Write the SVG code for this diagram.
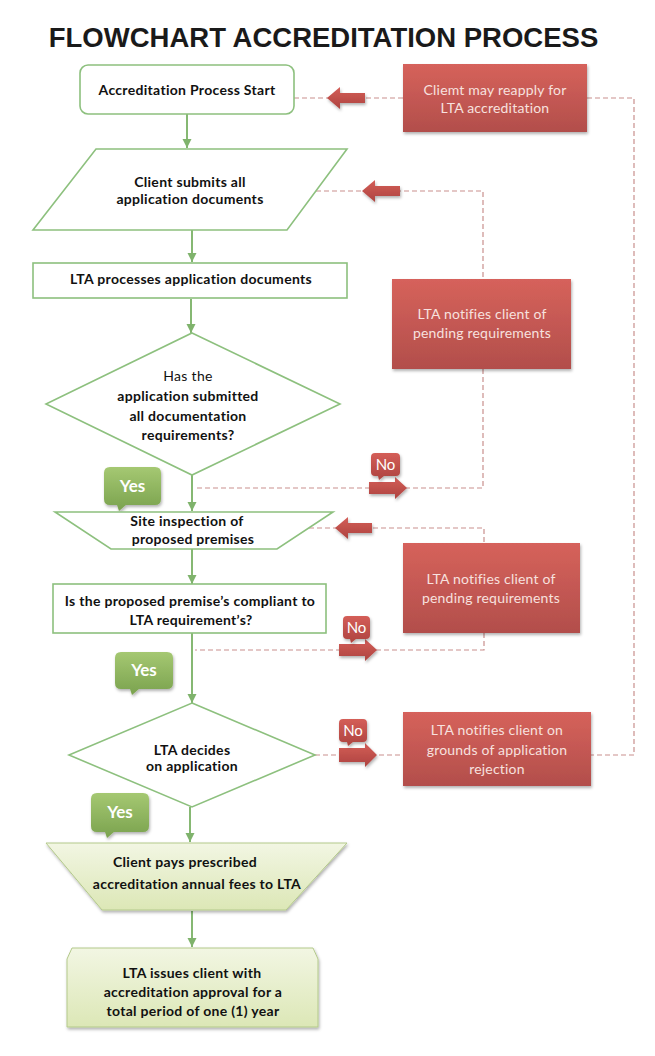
<svg xmlns="http://www.w3.org/2000/svg" width="655" height="1056" viewBox="0 0 655 1056">
<defs>
<linearGradient id="redG" x1="0" y1="0" x2="0" y2="1">
<stop offset="0" stop-color="#d6625b"/><stop offset="1" stop-color="#b24e4b"/>
</linearGradient>
<linearGradient id="arrG" x1="0" y1="0" x2="0" y2="1">
<stop offset="0" stop-color="#d45e58"/><stop offset="1" stop-color="#ad433f"/>
</linearGradient>
<linearGradient id="yesG" x1="0" y1="0" x2="0" y2="1">
<stop offset="0" stop-color="#a5c872"/><stop offset="1" stop-color="#7aa24e"/>
</linearGradient>
<linearGradient id="paleG" x1="0" y1="0" x2="0" y2="1">
<stop offset="0" stop-color="#f2f6e3"/><stop offset="1" stop-color="#dce7b6"/>
</linearGradient>
<filter id="sh" x="-10%" y="-10%" width="125%" height="135%">
<feDropShadow dx="1" dy="2" stdDeviation="1.6" flood-color="#000" flood-opacity="0.3"/>
</filter>
<marker id="ga" viewBox="0 0 10 10" refX="10" refY="5" markerWidth="9" markerHeight="10" markerUnits="userSpaceOnUse" orient="auto">
<path d="M0,0 L10,5 L0,10 Z" fill="#7fb36c"/>
</marker>
<style>
.title{font-family:"Liberation Sans",Arial,sans-serif;font-weight:bold;font-size:27.5px;fill:#1a1a1a;text-anchor:middle}
.wn{fill:#fff;stroke:#8dc07e;stroke-width:1.6}
.pn{fill:url(#paleG);stroke:#b3c98a;stroke-width:1}
.rb{fill:url(#redG);filter:url(#sh)}
.t{font-family:Lato,"Open Sans",sans-serif;font-weight:bold;font-size:14px;letter-spacing:0.3px;fill:#111;text-anchor:middle}
.tn{font-weight:normal}
.rt{font-family:Lato,"Open Sans",sans-serif;font-size:14px;letter-spacing:0.2px;fill:#f7e1df;text-anchor:middle}
.g{stroke:#86b873;stroke-width:2;fill:none}
.d{stroke:#c98f8d;stroke-width:1.2;stroke-dasharray:5,3;fill:none}
.ra{fill:url(#arrG);filter:url(#sh)}
.yes{fill:url(#yesG);filter:url(#sh)}
.yt{font-family:Lato,"Open Sans",sans-serif;font-weight:bold;font-size:17px;fill:#fff;text-anchor:middle}
.no{fill:url(#arrG);filter:url(#sh)}
.nt{font-family:Lato,"Open Sans",sans-serif;font-size:15px;fill:#fff;text-anchor:middle}
</style>
</defs>
<rect width="655" height="1056" fill="#fff"/>
<text class="title" x="323.5" y="47">FLOWCHART ACCREDITATION PROCESS</text>

<g id="connectors">
<line class="g" x1="187" y1="114" x2="187" y2="148" marker-end="url(#ga)"/>
<line class="g" x1="192" y1="230" x2="192" y2="262" marker-end="url(#ga)"/>
<line class="g" x1="191" y1="299" x2="191" y2="333" marker-end="url(#ga)"/>
<line class="g" x1="192" y1="475" x2="192" y2="511" marker-end="url(#ga)"/>
<line class="g" x1="192" y1="549" x2="192" y2="584" marker-end="url(#ga)"/>
<line class="g" x1="192" y1="633" x2="192" y2="703" marker-end="url(#ga)"/>
<line class="g" x1="190" y1="807" x2="190" y2="842" marker-end="url(#ga)"/>
<line class="g" x1="192" y1="911" x2="192" y2="947" marker-end="url(#ga)"/>
<polyline class="d" points="294,98 403,98"/>
<polyline class="d" points="587,98 634,98 634,755 591,755"/>
<polyline class="d" points="316,191 483,191 483,279"/>
<polyline class="d" points="483,369 483,488 195,488"/>
<polyline class="d" points="309,528 484,528 484,543"/>
<polyline class="d" points="484,633 484,650 195,650"/>
<polyline class="d" points="315,755 403,755"/>
<path class="ra" d="M327,98 L340,87 L340,93 L365,93 L365,103 L340,103 L340,109 Z"/>
<path class="ra" d="M362,191 L375,180 L375,186 L400,186 L400,196 L375,196 L375,202 Z"/>
<path class="ra" d="M335,528 L348,517 L348,523 L372,523 L372,533 L348,533 L348,539 Z"/>
<path class="ra" d="M407,488 L395,477 L395,482 L369,482 L369,494 L395,494 L395,499 Z"/>
<path class="ra" d="M377,650 L365,639 L365,644 L339,644 L339,656 L365,656 L365,661 Z"/>
<path class="ra" d="M377,755 L365,743 L365,748 L339,748 L339,762 L365,762 L365,767 Z"/>
</g>

<g id="start">
<rect class="wn" x="80" y="65" width="214" height="49" rx="8"/>
<text class="t" x="187" y="95">Accreditation Process Start</text>
</g>

<g id="reapply">
<rect class="rb" x="403" y="64" width="184" height="68"/>
<text class="rt" x="495" y="95">Cliemt may reapply for</text>
<text class="rt" x="495" y="113">LTA accreditation</text>
</g>

<g id="submit">
<polygon class="wn" points="96,149 347,149 287,230 33,230"/>
<text class="t" x="190" y="187">Client submits all</text>
<text class="t" x="190" y="204">application documents</text>
</g>

<g id="process">
<rect class="wn" x="33" y="263" width="314" height="35"/>
<text class="t" x="191" y="284">LTA processes application documents</text>
</g>

<g id="pending1">
<rect class="rb" x="392" y="279" width="179" height="90"/>
<text class="rt" x="482" y="319">LTA notifies client of</text>
<text class="rt" x="482" y="338">pending requirements</text>
</g>

<g id="decision1">
<polygon class="wn" points="192,333 340,404 192,475 46,404"/>
<text class="t tn" x="188" y="381">Has the</text>
<text class="t" x="188" y="401">application submitted</text>
<text class="t" x="188" y="421">all documentation</text>
<text class="t" x="188" y="440">requirements?</text>
</g>

<g id="no1">
<path class="no" d="M375,453 H396 Q400,453 400,457 V472 Q400,476 396,476 H384 L379,480 L378,476 H375 Q371,476 371,472 V457 Q371,453 375,453 Z"/>
<text class="nt" x="385.5" y="470">No</text>
</g>

<g id="yes1">
<path class="yes" d="M110,467 H155 Q161,467 161,473 V499 Q161,505 155,505 H126 L119,511 L117,505 H110 Q104,505 104,499 V473 Q104,467 110,467 Z"/>
<text class="yt" x="132.5" y="492">Yes</text>
</g>

<g id="site">
<polygon class="wn" points="55,512 333,512 277,549 111,549"/>
<text class="t" x="187" y="526">Site inspection of</text>
<text class="t" x="193" y="544">proposed premises</text>
</g>

<g id="pending2">
<rect class="rb" x="403" y="543" width="177" height="90"/>
<text class="rt" x="491" y="584">LTA notifies client of</text>
<text class="rt" x="491" y="603">pending requirements</text>
</g>

<g id="compliance">
<rect class="wn" x="53" y="584" width="273" height="49"/>
<text class="t" x="190" y="606">Is the proposed premise’s compliant to</text>
<text class="t" x="191" y="625">LTA requirement’s?</text>
</g>

<g id="no2">
<path class="no" d="M347,616 H366 Q370,616 370,620 V635 Q370,639 366,639 H356 L351,643 L350,639 H347 Q343,639 343,635 V620 Q343,616 347,616 Z"/>
<text class="nt" x="356.5" y="633">No</text>
</g>

<g id="yes2">
<path class="yes" d="M121,652 H167 Q173,652 173,658 V683 Q173,689 167,689 H139 L132,695 L130,689 H121 Q115,689 115,683 V658 Q115,652 121,652 Z"/>
<text class="yt" x="144" y="676">Yes</text>
</g>

<g id="decision2">
<polygon class="wn" points="192,703 315,755 192,807 69,755"/>
<text class="t" x="192" y="755">LTA decides</text>
<text class="t" x="192" y="771">on application</text>
</g>

<g id="no3">
<path class="no" d="M343,719 H363 Q367,719 367,723 V738 Q367,742 363,742 H353 L348,746 L347,742 H343 Q339,742 339,738 V723 Q339,719 343,719 Z"/>
<text class="nt" x="353" y="736">No</text>
</g>

<g id="rejection">
<rect class="rb" x="403" y="712" width="188" height="74"/>
<text class="rt" x="497" y="735">LTA notifies client on</text>
<text class="rt" x="497" y="755">grounds of application</text>
<text class="rt" x="497" y="774">rejection</text>
</g>

<g id="yes3">
<path class="yes" d="M97,793 H143 Q149,793 149,799 V826 Q149,832 143,832 H114 L107,838 L105,832 H97 Q91,832 91,826 V799 Q91,793 97,793 Z"/>
<text class="yt" x="120" y="818">Yes</text>
</g>

<g id="pay">
<polygon class="pn" points="46,843 347,843 286,910 102,910" filter="url(#sh)"/>
<text class="t" x="185" y="867">Client pays prescribed</text>
<text class="t" x="197" y="889">accreditation annual fees to LTA</text>
</g>

<g id="issue">
<polygon class="pn" points="72,948 313,948 318,959 318,1027 67,1027 67,959" filter="url(#sh)"/>
<text class="t" x="192" y="978">LTA issues client with</text>
<text class="t" x="193" y="997">accreditation approval for a</text>
<text class="t" x="193" y="1016">total period of one (1) year</text>
</g>
</svg>
